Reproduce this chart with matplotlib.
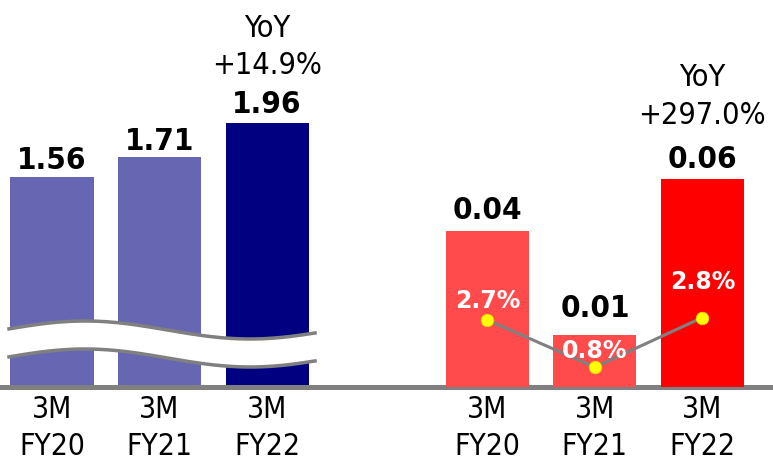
import numpy as np
import matplotlib
matplotlib.use("Agg")
import matplotlib.pyplot as plt
from matplotlib.patches import Polygon

# data
periods = ["3M\nFY20", "3M\nFY21", "3M\nFY22"]
sales = [1.56, 1.71, 1.96]
sales_labels = ["1.56", "1.71", "1.96"]
sales_yoy = "YoY\n+14.9%"
profit = [0.045, 0.015, 0.06]
profit_labels = ["0.04", "0.01", "0.06"]
profit_yoy = "YoY\n+297.0%"
margin = [2.7, 0.8, 2.8]
margin_labels = ["2.7%", "0.8%", "2.8%"]

W, H = 773, 460
DPI = 100


def px(v):
    # pixels -> points at this dpi
    return v * 72.0 / DPI


fig = plt.figure(figsize=(W / DPI, H / DPI), dpi=DPI)
plt.rcParams['font.family'] = ['DejaVu Sans']
COND = dict(fontstretch="condensed")

base = 388  # baseline, pixels from top
ax = fig.add_axes([0, (H - base) / H, 1, base / H])
ax2 = ax.twinx()
ax3 = ax.twinx()

step = 107.5
xl = np.arange(3)
xr = np.arange(3) + 4.05
ax.set_xlim(-52 / step, (W - 52) / step)
ax.set_ylim(0, base / 134.6)
ax2.set_ylim(0, base / 208 * 0.06)
ax3.set_ylim(0, base / 24.8)

bw = 83 / step
ax.bar(xl, sales, width=bw, color=["#6666B2", "#6666B2", "#000080"], zorder=2)
ax2.bar(xr, profit, width=bw, color=["#FF4B4B", "#FF4B4B", "#FF0000"], zorder=2)

ax3.plot(xr, margin, color="#808080", lw=2.2, zorder=3)
ax3.plot(xr, margin, ls="none", marker="o", ms=9, mfc="#FFFF00", mec="#E6D800", mew=0.6, zorder=4)

# value labels above the bars
for x, v, s, off in zip(xl, sales, sales_labels, [9, 8, 11]):
    ax.annotate(s, (x, v), xytext=(0, px(off)), textcoords="offset points",
                ha="center", va="baseline", fontsize=22.5, fontweight="bold", **COND)
for x, v, s, off in zip(xr, profit, profit_labels, [13, 19, 12]):
    ax2.annotate(s, (x, v), xytext=(0, px(off)), textcoords="offset points",
                 ha="center", va="baseline", fontsize=22.5, fontweight="bold", **COND)

# YoY notes over the last bar of each group
for axx, x, v, txt, off, pitch in [(ax, xl[2], sales[2], sales_yoy, 50, 37),
                                    (ax2, xr[2], profit[2], profit_yoy, 56, 38)]:
    l1, l2 = txt.split("\n")
    axx.annotate(l2, (x, v), xytext=(0, px(off)), textcoords="offset points",
                 ha="center", va="baseline", fontsize=22, **COND)
    axx.annotate(l1, (x, v), xytext=(0, px(off + pitch)), textcoords="offset points",
                 ha="center", va="baseline", fontsize=22, **COND)

for x, v, s, off in zip(xr, margin, margin_labels, [13, 10, 30]):
    ax3.annotate(s, (x, v), xytext=(0, px(off)), textcoords="offset points",
                 ha="center", va="baseline", fontsize=17, fontweight="bold",
                 color="white", zorder=5)

# x labels
ax.set_xticks(list(xl) + list(xr))
ax.set_xticklabels(periods + periods, fontsize=21.5, linespacing=1.33, **COND)
ax.tick_params(axis="x", length=0, pad=5)
ax.set_yticks([])
ax2.set_yticks([])
ax3.set_yticks([])
for a in (ax, ax2, ax3):
    for sp in a.spines.values():
        sp.set_visible(False)
ax.axhline(0, color="#808080", lw=px(5), zorder=6, clip_on=False)

# axis-break waves over the left group
wx = np.linspace(9, 315, 200)
wy = 331 - 9 * np.cos(2 * np.pi * (wx - 85) / 330)
gap = 28
fx = wx / W
top = 1 - wy / H
bot = 1 - (wy + gap) / H
band = Polygon(np.column_stack([np.r_[fx, fx[::-1]], np.r_[top, bot[::-1]]]),
               closed=True, facecolor="white", edgecolor="none",
               transform=fig.transFigure, zorder=10)
fig.add_artist(band)
for yy in (top, bot):
    fig.add_artist(plt.Line2D(fx, yy, color="#808080", lw=px(3.5),
                              transform=fig.transFigure, zorder=11))

fig.savefig("out.png", dpi=DPI)
